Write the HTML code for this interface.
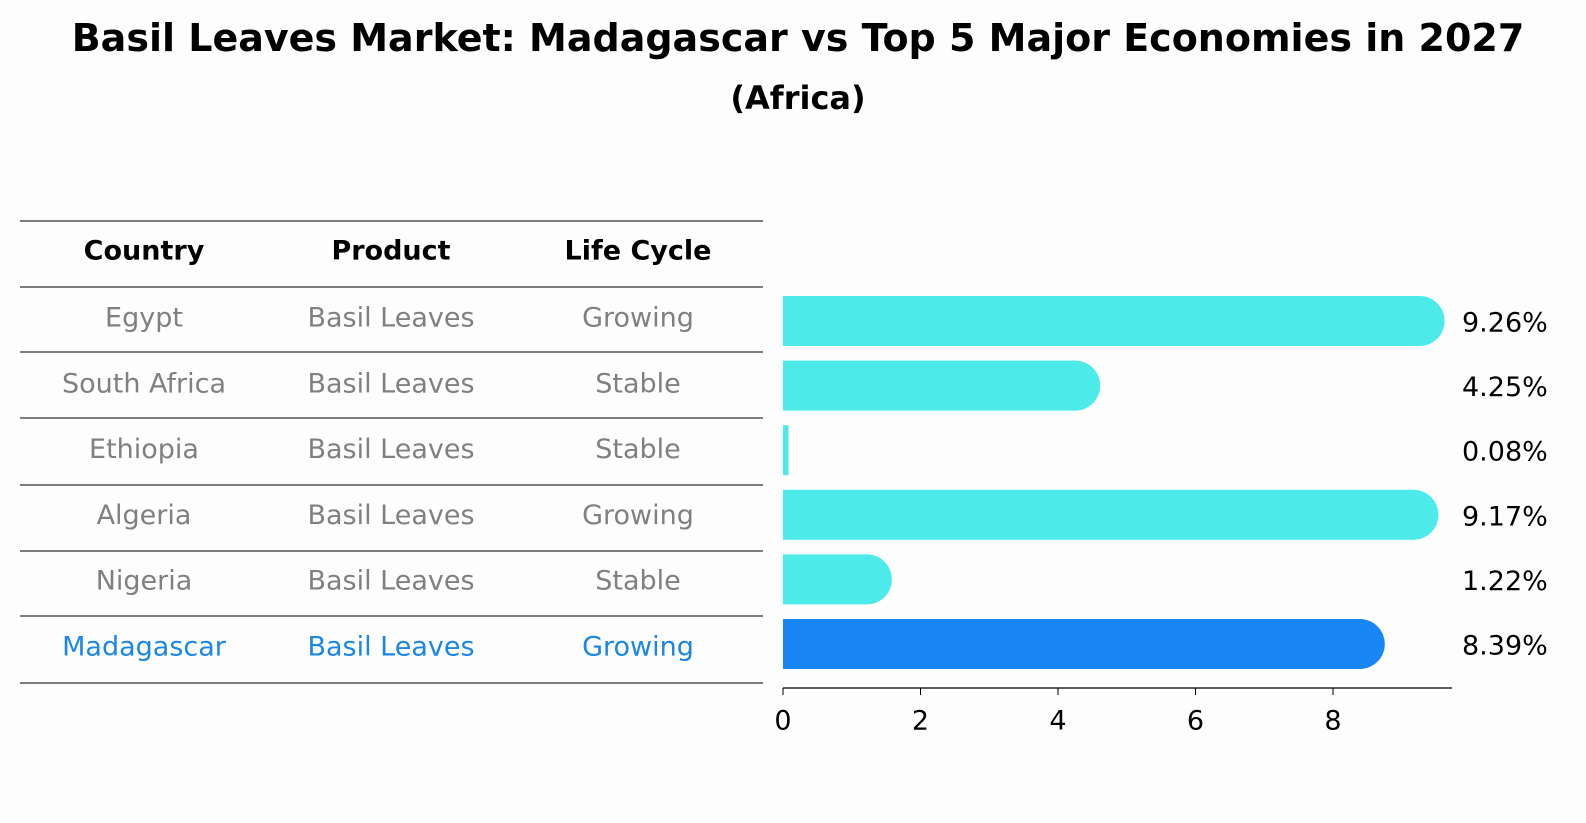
<!DOCTYPE html>
<html><head><meta charset="utf-8"><style>
html,body{margin:0;padding:0;overflow:hidden;background:#fdfdfd;width:1586px;height:823px;}
svg{display:block;}
svg text{font-family:"DejaVu Sans","Liberation Sans",sans-serif;}
</style></head><body>
<svg id="c" width="1586" height="823" viewBox="0 0 1586 823">
<text x="798" y="38" font-size="38" font-weight="bold" text-anchor="middle" dominant-baseline="central">Basil Leaves Market: Madagascar vs Top 5 Major Economies in 2027</text>
<text x="798" y="98" font-size="32" font-weight="bold" text-anchor="middle" dominant-baseline="central">(Africa)</text>
<g id="tbl"></g>
<g id="bars"></g>
</svg>
<script>
const countries=["Egypt","South Africa","Ethiopia","Algeria","Nigeria","Madagascar"];
const products=["Basil Leaves","Basil Leaves","Basil Leaves","Basil Leaves","Basil Leaves","Basil Leaves"];
const cycles=["Growing","Stable","Stable","Growing","Stable","Growing"];
const values=[9.26,4.25,0.08,9.17,1.22,8.39];
const ticks=[0,2,4,6,8];
const NS="http://www.w3.org/2000/svg";
function mk(t,a,p){const e=document.createElementNS(NS,t);for(const k in a)e.setAttribute(k,a[k]);p.appendChild(e);return e;}
const tbl=document.getElementById('tbl'),bars=document.getElementById('bars');
const x=v=>783+v*68.75;
const rowY=i=>318+i*65.8;
const lineYs=[221,287,352,418,485,551,616,683];
lineYs.forEach(y=>{const l=mk('line',{x1:20,x2:763,y1:y,y2:y,stroke:'#000','stroke-width':1},tbl);

});
const cx=[144,391,638];
["Country","Product","Life Cycle"].forEach((h,j)=>{const t=mk('text',{x:cx[j],y:251,'font-size':27,'font-weight':'bold','text-anchor':'middle','dominant-baseline':'central'},tbl);t.textContent=h;

});
countries.forEach((c,i)=>{
 const col=i===5?'#1a86e6':'#808080';
 [c,products[i],cycles[i]].forEach((s,j)=>{const t=mk('text',{x:cx[j],y:rowY(i),'font-size':27,'text-anchor':'middle','dominant-baseline':'central',fill:col},tbl);t.textContent=s;
 
 });
 const fill=i===5?'#1a86f5':'#4deaea';
 const yc=321+i*64.6,h=50,w=x(values[i])-x(0);
 const r=mk('rect',{x:x(0),y:yc-h/2,width:w,height:h,fill:fill},bars);
 
 
 if(w>25){const ci=mk('circle',{cx:x(values[i]),cy:yc,r:25,fill:fill},bars);
 
 }
 const t=mk('text',{x:1462,y:323+i*64.6,'font-size':27,'dominant-baseline':'central'},bars);t.textContent=values[i].toFixed(2)+'%';
 
 
});
const ax=mk('line',{x1:783,x2:1452,y1:688,y2:688,stroke:'#000','stroke-width':1.2},bars);


ticks.forEach(v=>{const l=mk('line',{x1:x(v),x2:x(v),y1:688,y2:695,stroke:'#000'},bars);


const t=mk('text',{x:x(v),y:721,'font-size':27,'text-anchor':'middle','dominant-baseline':'central'},bars);t.textContent=v;

});
</script>
</body></html>
